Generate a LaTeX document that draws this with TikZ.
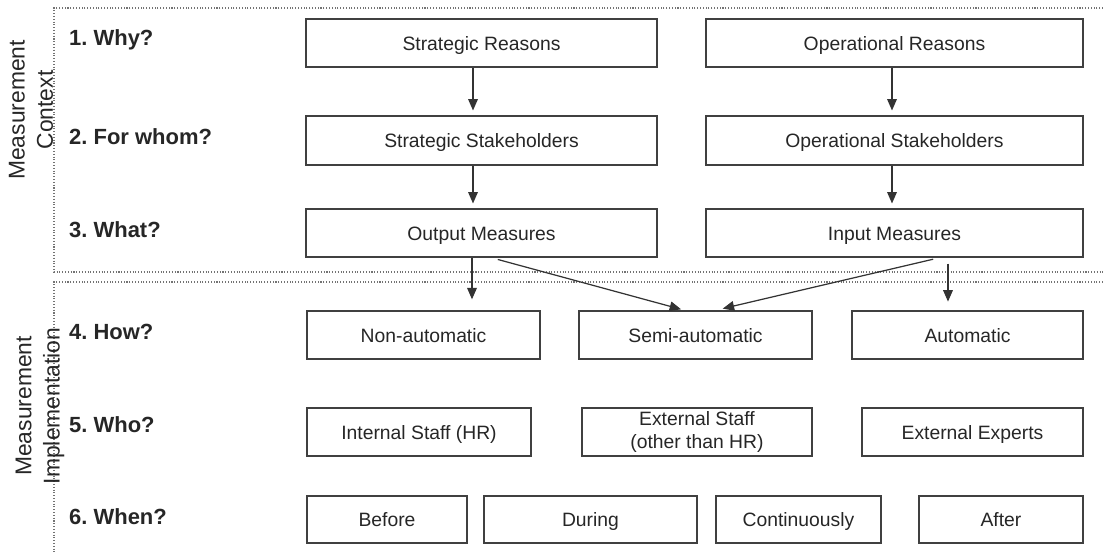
\documentclass[tikz,border=0pt]{standalone}
\usepackage{fontspec}
\setmainfont{Liberation Sans}
\usetikzlibrary{arrows.meta}

\tikzset{
  box/.style={draw=black!75, line width=0.7pt, font=\fontsize{11}{13}\selectfont, text=black!85, text height=9.5pt, text depth=1.5pt, inner sep=1pt},
  twoline/.style={box, align=center, text height=, text depth=},
  question/.style={anchor=west, font=\bfseries\fontsize{12.5}{15}\selectfont, text=black!85},
  side/.style={rotate=90, align=center, font=\fontsize{13}{16}\selectfont, text=black!85},
  frame/.style={draw=black!55, densely dotted, line width=0.6pt},
  arr/.style={-{Triangle[length=6.5pt,width=5.5pt]}, line width=0.7pt, draw=black!80}
}

\begin{document}
\frenchspacing
\begin{tikzpicture}[x=0.02cm, y=-0.02cm]
  \useasboundingbox (0,0) rectangle (1103,554);

  % frames
  \draw[frame] (1103,8) -- (54,8) -- (54,272) -- (1103,272);
  \draw[frame] (1103,282) -- (54,282) -- (54,554);

  % side labels
  \node[side] (ctx) at (31,110) {Measurement\\Context};
  \node[side] (impl) at (40,406) {Measurement\\Implementation};

  % questions
  \node[question] (q1) at (63,40) {1. Why?};
  \node[question] (q2) at (63,137) {2. For whom?};
  \node[question] (q3) at (63,230) {3. What?};
  \node[question] (q4) at (63,332) {4. How?};
  \node[question] (q5) at (63,425) {5. Who?};
  \node[question] (q6) at (63,517) {6. When?};

  % context boxes
  \node[box, minimum width=7.02cm, minimum height=0.96cm] (sr) at (481.5,43) {Strategic Reasons};
  \node[box, minimum width=7.54cm, minimum height=0.96cm] (or) at (894.5,43) {Operational Reasons};
  \node[box, minimum width=7.02cm, minimum height=0.98cm] (ss) at (481.5,140.5) {Strategic Stakeholders};
  \node[box, minimum width=7.54cm, minimum height=0.98cm] (os) at (894.5,140.5) {Operational Stakeholders};
  \node[box, minimum width=7.02cm, minimum height=0.96cm] (om) at (481.5,233) {Output Measures};
  \node[box, minimum width=7.54cm, minimum height=0.96cm] (im) at (894.5,233) {Input Measures};

  % implementation boxes
  \node[box, minimum width=4.66cm, minimum height=0.96cm] (na) at (423.5,335) {Non-automatic};
  \node[box, minimum width=4.66cm, minimum height=0.96cm] (sa) at (695.5,335) {Semi-automatic};
  \node[box, minimum width=4.62cm, minimum height=0.96cm] (au) at (967.5,335) {Automatic};

  \node[box, minimum width=4.48cm, minimum height=0.96cm] (is) at (419,432) {Internal Staff (HR)};
  \node[twoline, minimum width=4.6cm, minimum height=0.96cm] (es) at (697,432) {External Staff\\(other than HR)};
  \node[box, minimum width=4.42cm, minimum height=0.96cm] (ee) at (972.5,432) {External Experts};

  \node[box, minimum width=3.2cm, minimum height=0.94cm] (bf) at (387,519.5) {Before};
  \node[box, minimum width=4.26cm, minimum height=0.94cm] (du) at (590.5,519.5) {During};
  \node[box, minimum width=3.3cm, minimum height=0.94cm] (co) at (798.5,519.5) {Continuously};
  \node[box, minimum width=3.28cm, minimum height=0.94cm] (af) at (1001,519.5) {After};

  % arrows
  \draw[arr, shorten >=2.8pt] ([xshift=-0.17cm]sr.south) -- ([xshift=-0.17cm]ss.north);
  \draw[arr, shorten >=2.8pt] ([xshift=-0.05cm]or.south) -- ([xshift=-0.05cm]os.north);
  \draw[arr, shorten >=2.8pt] ([xshift=-0.17cm]ss.south) -- ([xshift=-0.17cm]om.north);
  \draw[arr, shorten >=2.8pt] ([xshift=-0.05cm]os.south) -- ([xshift=-0.05cm]im.north);
  \draw[arr, shorten >=6.3pt] ([xshift=-0.19cm]om.south) -- ([xshift=-0.19cm]om.south |- na.north);
  \draw[arr, shorten <=4pt, shorten >=2.3pt] ([xshift=0.19cm]om.south) -- ([xshift=-0.21cm]sa.north);
  \draw[arr, shorten <=4pt, shorten >=4.5pt] ([xshift=0.91cm]im.south) -- ([xshift=0.39cm]sa.north);
  \draw[arr, shorten <=3.4pt, shorten >=5pt] ([xshift=1.07cm]im.south) -- ([xshift=1.07cm]im.south |- au.north);
\end{tikzpicture}
\end{document}
